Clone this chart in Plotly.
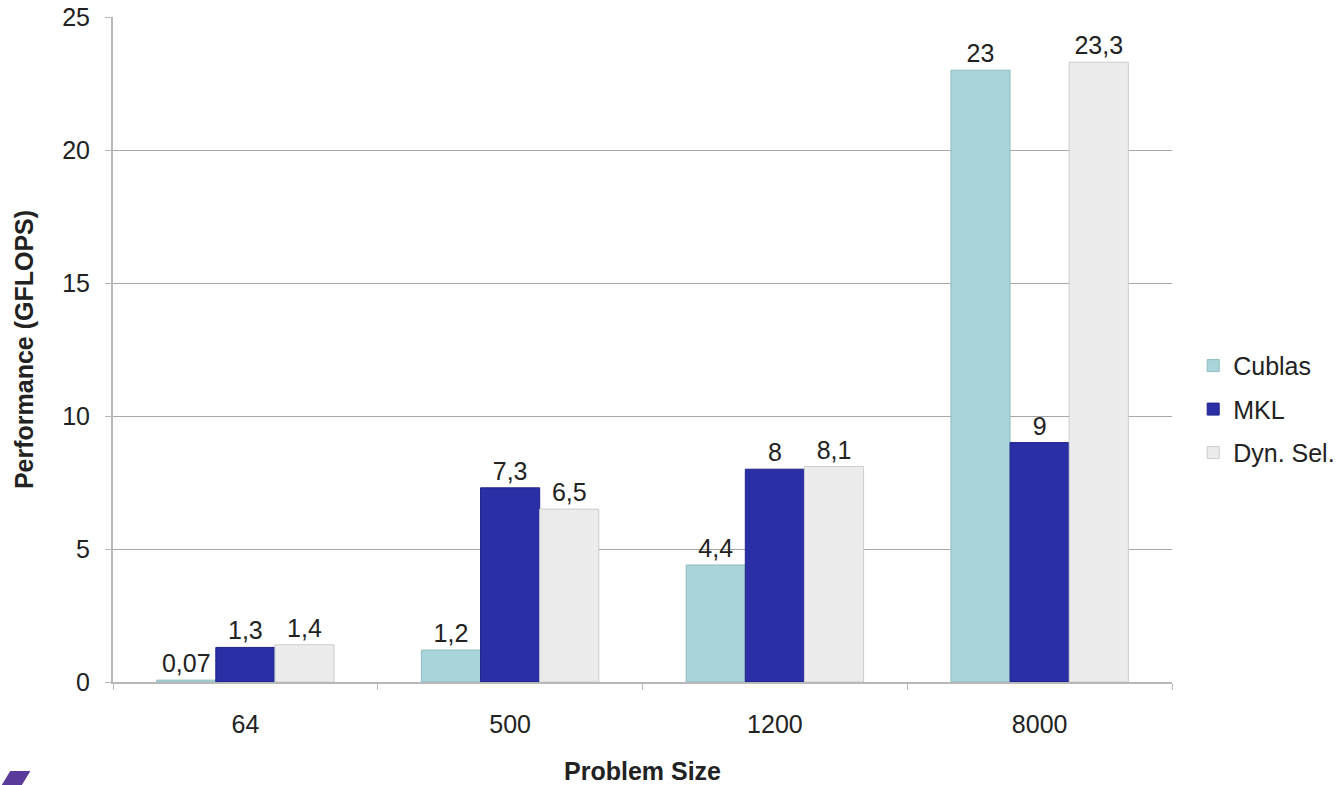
import plotly.graph_objects as go

# Problem sizes and measured performance (GFLOPS) per library
sizes = ["64", "500", "1200", "8000"]
cublas = [0.07, 1.2, 4.4, 23]
mkl = [1.3, 7.3, 8, 9]
dyn_sel = [1.4, 6.5, 8.1, 23.3]

series = [
    ("Cublas", cublas, "#a9d4d9", "#8fbcc1"),
    ("MKL", mkl, "#2a2fa6", "#1f2388"),
    ("Dyn. Sel.", dyn_sel, "#ececec", "#cccccc"),
]

FONT = "Liberation Sans, Arial, Helvetica, sans-serif"
FS = 25
INK = "#222222"

fig = go.Figure()
for i, (name, vals, color, edge) in enumerate(series):
    fig.add_trace(go.Bar(
        name=name,
        x=sizes,
        y=vals,
        legendgroup=f"g{i}",
        marker=dict(color=color, line=dict(color=edge, width=1)),
        texttemplate="%{y}",
        textposition="outside",
        textfont=dict(size=FS, color=INK, family=FONT),
        cliponaxis=False,
    ))

fig.update_layout(
    width=1343,
    height=785,
    margin=dict(l=113, r=171, t=17, b=103, autoexpand=False),
    paper_bgcolor="white",
    plot_bgcolor="white",
    separators=",.",
    barmode="group",
    bargap=0.33,
    bargroupgap=0,
    uniformtext=dict(minsize=FS, mode="show"),
    font=dict(family=FONT, size=FS, color=INK),
    showlegend=True,
    legend=dict(
        x=1.02, y=0.41, xanchor="left", yanchor="middle",
        font=dict(size=FS, color=INK),
        itemwidth=30, tracegroupgap=8,
        bgcolor="rgba(0,0,0,0)",
    ),
    xaxis=dict(
        type="category",
        automargin=False,
        showgrid=False,
        showline=True, linecolor="#b8b8b8", linewidth=2,
        ticks="outside", tickson="boundaries", ticklen=6,
        tickcolor="#b8b8b8", tickwidth=1,
        ticklabelstandoff=19,
        tickfont=dict(size=FS, color=INK),
        title=dict(text="<b>Problem Size</b>", font=dict(size=FS, color=INK), standoff=25),
    ),
    yaxis=dict(
        range=[0, 25],
        dtick=5,
        automargin=False,
        showgrid=True, gridcolor="#a8a8a8", gridwidth=1,
        zeroline=False,
        showline=True, linecolor="#b8b8b8", linewidth=2,
        ticks="outside", ticklen=6, tickcolor="#b8b8b8", tickwidth=1,
        ticklabelstandoff=10,
        tickfont=dict(size=FS, color=INK),
        title=dict(text="<b>Performance (GFLOPS)</b>", font=dict(size=FS, color=INK), standoff=21),
    ),
)

# Corner logo fragment at the bottom-left of the slide
fig.add_shape(
    type="path",
    xref="paper", yref="paper",
    path="M -0.097 -0.134 L -0.078 -0.134 L -0.088 -0.160 L -0.107 -0.160 Z",
    fillcolor="#5a3a9a", line=dict(width=0), layer="above",
)

fig.write_html("out.html")
